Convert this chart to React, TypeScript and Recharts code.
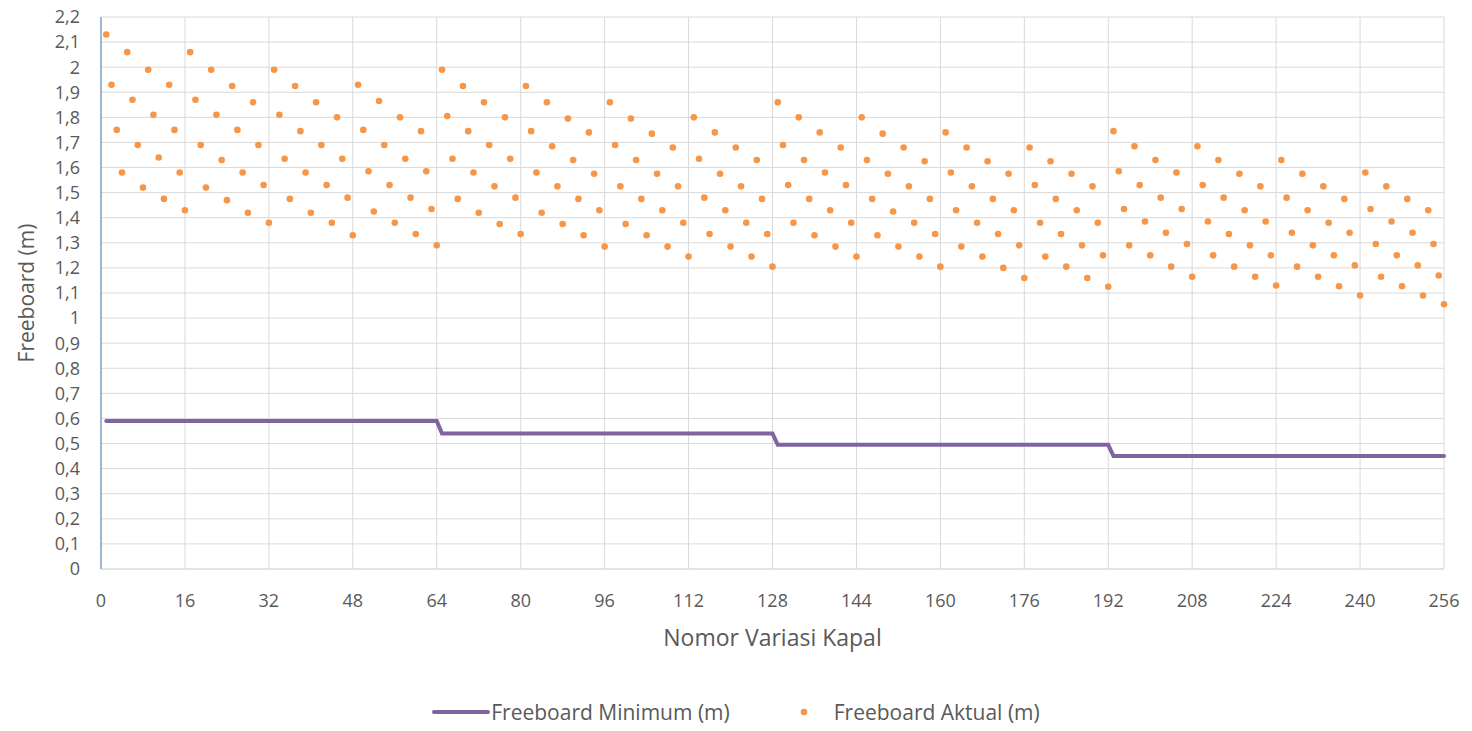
import { ComposedChart, Line, Scatter, XAxis, YAxis, CartesianGrid, Legend } from 'recharts';

// Freeboard aktual per nomor variasi kapal, 64 variasi per blok
const aktualBlok1 = [
  2.13, 1.93, 1.75, 1.58, 2.06, 1.87, 1.69, 1.52, 1.99, 1.81, 1.64, 1.475, 1.93, 1.75, 1.58, 1.43,
  2.06, 1.87, 1.69, 1.52, 1.99, 1.81, 1.63, 1.47, 1.925, 1.75, 1.58, 1.42, 1.86, 1.69, 1.53, 1.38,
  1.99, 1.81, 1.635, 1.475, 1.925, 1.745, 1.58, 1.42, 1.86, 1.69, 1.53, 1.38, 1.8, 1.635, 1.48, 1.33,
  1.93, 1.75, 1.585, 1.425, 1.865, 1.69, 1.53, 1.38, 1.8, 1.635, 1.48, 1.335, 1.745, 1.585, 1.435, 1.29,
];
const aktualBlok2 = [
  1.99, 1.805, 1.635, 1.475, 1.925, 1.745, 1.58, 1.42, 1.86, 1.69, 1.525, 1.375, 1.8, 1.635, 1.48, 1.335,
  1.925, 1.745, 1.58, 1.42, 1.86, 1.685, 1.525, 1.375, 1.795, 1.63, 1.475, 1.33, 1.74, 1.575, 1.43, 1.285,
  1.86, 1.69, 1.525, 1.375, 1.795, 1.63, 1.475, 1.33, 1.735, 1.575, 1.43, 1.285, 1.68, 1.525, 1.38, 1.245,
  1.8, 1.635, 1.48, 1.335, 1.74, 1.575, 1.43, 1.285, 1.68, 1.525, 1.38, 1.245, 1.63, 1.475, 1.335, 1.205,
];
const aktualBlok3 = [
  1.86, 1.69, 1.53, 1.38, 1.8, 1.63, 1.475, 1.33, 1.74, 1.58, 1.43, 1.285, 1.68, 1.53, 1.38, 1.245,
  1.8, 1.63, 1.475, 1.33, 1.735, 1.575, 1.425, 1.285, 1.68, 1.525, 1.38, 1.245, 1.625, 1.475, 1.335, 1.205,
  1.74, 1.58, 1.43, 1.285, 1.68, 1.525, 1.38, 1.245, 1.625, 1.475, 1.335, 1.2, 1.575, 1.43, 1.29, 1.16,
  1.68, 1.53, 1.38, 1.245, 1.625, 1.475, 1.335, 1.205, 1.575, 1.43, 1.29, 1.16, 1.525, 1.38, 1.25, 1.125,
];
const aktualBlok4 = [
  1.745, 1.585, 1.435, 1.29, 1.685, 1.53, 1.385, 1.25, 1.63, 1.48, 1.34, 1.205, 1.58, 1.435, 1.295, 1.165,
  1.685, 1.53, 1.385, 1.25, 1.63, 1.48, 1.335, 1.205, 1.575, 1.43, 1.29, 1.165, 1.525, 1.385, 1.25, 1.13,
  1.63, 1.48, 1.34, 1.205, 1.575, 1.43, 1.29, 1.165, 1.525, 1.38, 1.25, 1.127, 1.475, 1.34, 1.21, 1.09,
  1.58, 1.435, 1.295, 1.165, 1.525, 1.385, 1.25, 1.127, 1.475, 1.34, 1.21, 1.09, 1.43, 1.295, 1.17, 1.055,
];

// Freeboard minimum untuk tiap blok 64 variasi
const minimumBlok = [0.59, 0.54, 0.495, 0.45];

const xTicks = [0, 16, 32, 48, 64, 80, 96, 112, 128, 144, 160, 176, 192, 208, 224, 240, 256];
const yTicks = [
  0, 0.1, 0.2, 0.3, 0.4, 0.5, 0.6, 0.7, 0.8, 0.9, 1, 1.1, 1.2, 1.3, 1.4, 1.5, 1.6, 1.7, 1.8, 1.9, 2, 2.1, 2.2,
];

const aktual = [...aktualBlok1, ...aktualBlok2, ...aktualBlok3, ...aktualBlok4];
const rows = aktual.map((v, i) => ({
  nomor: i + 1,
  minimum: minimumBlok[Math.floor(i / 64)],
  aktual: v,
}));

const FONT = '"Open Sans", sans-serif';
const TEXT = '#595959';

const formatKoma = (v: number) => String(Math.round(v * 10) / 10).replace('.', ',');

const renderLegend = () => (
  <div
    style={{
      display: 'flex',
      justifyContent: 'center',
      alignItems: 'center',
      height: 30,
      fontFamily: FONT,
      fontSize: 21,
      color: TEXT,
    }}
  >
    <svg width={58} height={10}>
      <line x1={2} y1={5} x2={56} y2={5} stroke="#8064A2" strokeWidth={4} strokeLinecap="round" />
    </svg>
    <span style={{ marginLeft: 1 }}>Freeboard Minimum (m)</span>
    <svg width={8} height={8} style={{ marginLeft: 70 }}>
      <circle cx={4} cy={4} r={3.3} fill="#F79646" />
    </svg>
    <span style={{ marginLeft: 26 }}>Freeboard Aktual (m)</span>
  </div>
);

export default function App() {
  return (
    <div style={{ position: 'absolute', left: 0, top: 0, background: '#fff' }}>
      <ComposedChart width={1472} height={731} data={rows} margin={{ top: 17, right: 28, left: 0, bottom: 4 }}>
        <CartesianGrid stroke="#D9D9D9" />
        <XAxis
          dataKey="nomor"
          type="number"
          domain={[0, 256]}
          ticks={xTicks}
          interval={0}
          height={128}
          tickLine={false}
          tickSize={0}
          tickMargin={25}
          axisLine={{ stroke: '#D9D9D9' }}
          tick={{ fill: TEXT, fontSize: 18, fontFamily: FONT }}
          label={{
            value: 'Nomor Variasi Kapal',
            position: 'insideBottom',
            offset: 51,
            fill: TEXT,
            fontSize: 23,
            fontFamily: FONT,
          }}
        />
        <YAxis
          type="number"
          domain={[0, 2.2]}
          ticks={yTicks}
          interval={0}
          width={101}
          tickLine={false}
          tickSize={0}
          tickMargin={21}
          tickFormatter={formatKoma}
          axisLine={{ stroke: '#4F81BD' }}
          tick={{ fill: TEXT, fontSize: 18, fontFamily: FONT }}
          label={{
            value: 'Freeboard (m)',
            angle: -90,
            position: 'insideLeft',
            offset: 27,
            fill: TEXT,
            fontSize: 21,
            fontFamily: FONT,
            style: { textAnchor: 'middle' },
          }}
        />
        <Legend verticalAlign="bottom" content={renderLegend} wrapperStyle={{ left: 0, width: 1472 }} />
        <Line
          type="linear"
          dataKey="minimum"
          name="Freeboard Minimum (m)"
          stroke="#8064A2"
          strokeWidth={4}
          strokeLinecap="round"
          dot={false}
          activeDot={false}
          isAnimationActive={false}
        />
        <Scatter
          dataKey="aktual"
          name="Freeboard Aktual (m)"
          isAnimationActive={false}
          shape={(p: any) => <circle cx={p.cx} cy={p.cy} r={3.3} fill="#F79646" />}
        />
      </ComposedChart>
    </div>
  );
}
